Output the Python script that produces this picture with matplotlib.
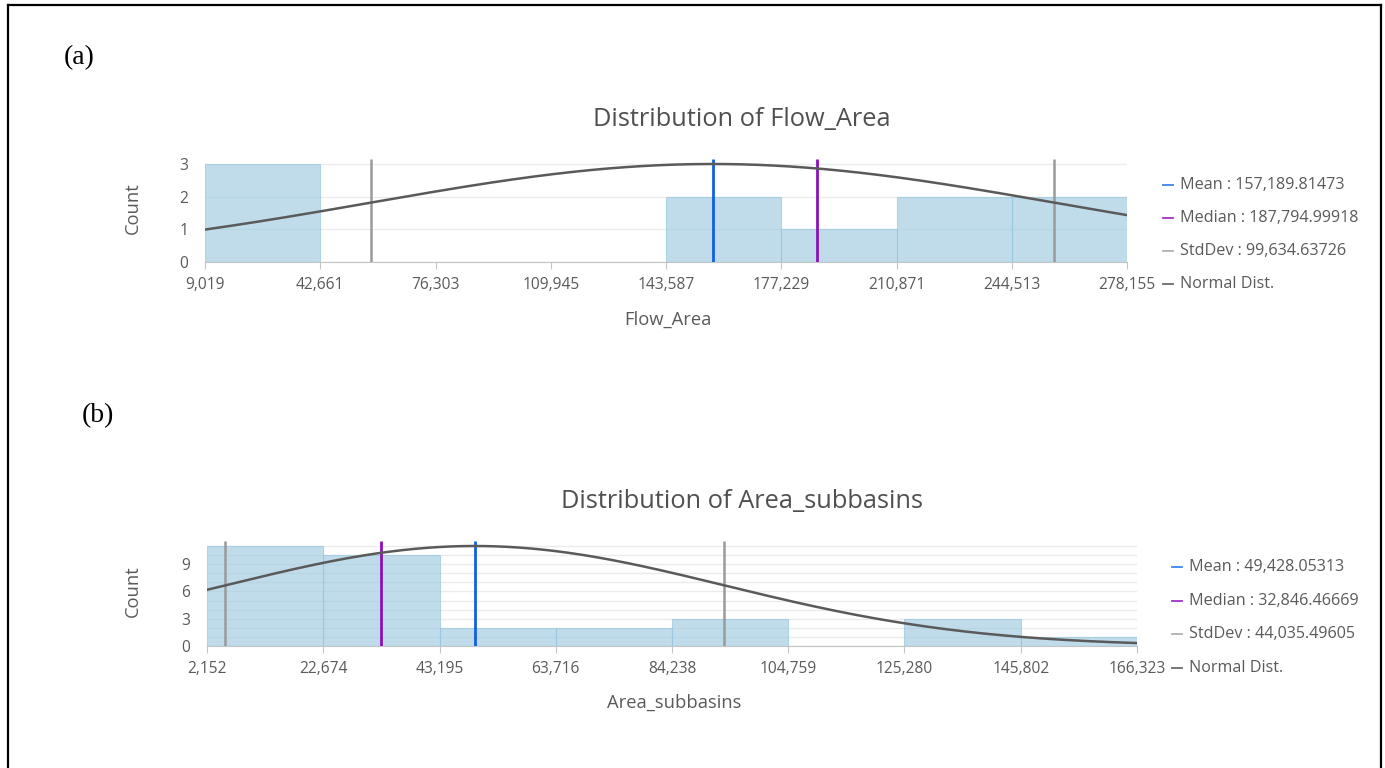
import numpy as np
import matplotlib
matplotlib.use('Agg')
import matplotlib.pyplot as plt
from matplotlib.lines import Line2D
from matplotlib.ticker import MultipleLocator, FixedLocator

# ---------------- data ----------------
flow_edges = [9019, 42661, 76303, 109945, 143587, 177229, 210871, 244513, 278155]
flow_counts = [3, 0, 0, 0, 2, 1, 2, 2]
flow_mean = 157189.81473
flow_median = 187794.99918
flow_std = 99634.63726

sub_edges = [2152, 22674, 43195, 63716, 84238, 104759, 125280, 145802, 166323]
sub_counts = [11, 10, 2, 2, 3, 0, 3, 1]
sub_mean = 49428.05313
sub_median = 32846.46669
sub_std = 44035.49605

W, H = 1385, 768
FONT = 'Open Sans'
plt.rcParams['font.family'] = [FONT, 'DejaVu Sans']

fig = plt.figure(figsize=(W / 100, H / 100), dpi=100)

def fx(x):
    return x / W

def fy(y):
    return 1 - y / H

BAR_C = '#9ecae1'
BAR_E = '#94c4de'
MEAN_C = '#1060e0'
MED_C = '#8a12b8'
STD_C = '#9a9a9a'
CURVE_C = '#5a5a5a'
TXT_C = '#5a5a5a'
GRID_C = '#ebebeb'
TICK_FS = 11.2
LEG_FS = 11.6
LAB_FS = 13.2
TITLE_FS = 18.3


def panel(left, right, y0, ytop_val, ylim_top, edges, counts, mean, median, std,
          yticks, title, title_y, xlabel, xlabel_y, legend_x, legend_ys, leg_vals):
    px_per_unit = (y0 - ytop_val[0]) / ytop_val[1]
    top_px = y0 - ylim_top * px_per_unit
    ax = fig.add_axes([fx(left), fy(y0), (right - left) / W, (y0 - top_px) / H])
    widths = np.diff(edges)
    ax.bar(edges[:-1], counts, width=widths, align='edge', color=BAR_C, alpha=0.65,
           edgecolor=BAR_E, linewidth=0.8, zorder=2)
    xs = np.linspace(edges[0], edges[-1], 400)
    ys = max(counts) * np.exp(-0.5 * ((xs - mean) / std) ** 2)
    ax.vlines([mean - std, mean + std], 0, ylim_top, color=STD_C, lw=1.8, zorder=3)
    ax.vlines([mean], 0, ylim_top, color=MEAN_C, lw=2.0, zorder=3)
    ax.vlines([median], 0, ylim_top, color=MED_C, lw=2.0, zorder=3)
    ax.plot(xs, ys, color=CURVE_C, lw=1.8, zorder=4)
    ax.set_xlim(edges[0], edges[-1])
    ax.set_ylim(0, ylim_top)
    ax.xaxis.set_major_locator(FixedLocator(edges))
    ax.set_xticklabels([f'{e:,}' for e in edges])
    ax.yaxis.set_major_locator(FixedLocator(yticks))
    ax.yaxis.set_minor_locator(MultipleLocator(1))
    ax.grid(True, which='both', axis='y', color=GRID_C, lw=1.0, zorder=0)
    ax.set_axisbelow(True)
    for s in ['top', 'right', 'left']:
        ax.spines[s].set_visible(False)
    ax.spines['bottom'].set_color('#c4c4c4')
    ax.spines['bottom'].set_zorder(1)
    ax.tick_params(axis='x', length=5, color='#c4c4c4', labelcolor=TXT_C,
                   labelsize=TICK_FS, pad=6)
    ax.tick_params(axis='y', which='both', length=0, labelcolor=TXT_C,
                   labelsize=TICK_FS, pad=12)
    ax.patch.set_alpha(0)
    # titles and labels
    fig.text(fx(742), fy(title_y), title, ha='center', va='center', fontsize=TITLE_FS,
             color='#505050')
    fig.text(fx((left + right) / 2 + 2), fy(xlabel_y), xlabel, ha='center', va='center',
             fontsize=LAB_FS, color=TXT_C)
    fig.text(fx(133), fy(y0 - (y0 - top_px) / 2 - 2), 'Count', ha='center', va='center',
             rotation=90, fontsize=LAB_FS, color=TXT_C)
    # legend
    labels = [f'Mean : {leg_vals[0]}', f'Median : {leg_vals[1]}',
              f'StdDev : {leg_vals[2]}', 'Normal Dist.']
    colors = ['#3a86ef', '#a032c8', '#b0b0b0', '#6a6a6a']
    for lab, c, ly in zip(labels, colors, legend_ys):
        fig.add_artist(Line2D([fx(legend_x), fx(legend_x + 10)], [fy(ly), fy(ly)],
                              color=c, lw=1.3, transform=fig.transFigure))
        fig.text(fx(legend_x + 17), fy(ly), lab, ha='left', va='center',
                 fontsize=LEG_FS, color=TXT_C)
    return ax


panel(205, 1127, 262, (164, 3), 3.15, flow_edges, flow_counts, flow_mean, flow_median,
      flow_std, [0, 1, 2, 3], 'Distribution of Flow_Area', 119, 'Flow_Area', 320,
      1163, [185, 218, 251, 284], ['157,189.81473', '187,794.99918', '99,634.63726'])

panel(207, 1137, 646, (546, 11), 11.55, sub_edges, sub_counts, sub_mean, sub_median,
      sub_std, [0, 3, 6, 9], 'Distribution of Area_subbasins', 502, 'Area_subbasins', 703,
      1172, [567, 601, 634, 668], ['49,428.05313', '32,846.46669', '44,035.49605'])

# panel letters
fig.text(fx(79), fy(58), '(a)', ha='center', va='center', fontsize=20,
         family='Liberation Serif', color='black')
fig.text(fx(98), fy(416), '(b)', ha='center', va='center', fontsize=20,
         family='Liberation Serif', color='black')

# border (open at bottom)
bw = 1.6
fig.add_artist(Line2D([fx(8), fx(8)], [fy(5), 0], color='black', lw=bw,
                      transform=fig.transFigure))
fig.add_artist(Line2D([fx(8), fx(1381)], [fy(5), fy(5)], color='black', lw=bw,
                      transform=fig.transFigure))
fig.add_artist(Line2D([fx(1381), fx(1381)], [fy(5), 0], color='black', lw=bw,
                      transform=fig.transFigure))

fig.savefig('out.png', dpi=100)
